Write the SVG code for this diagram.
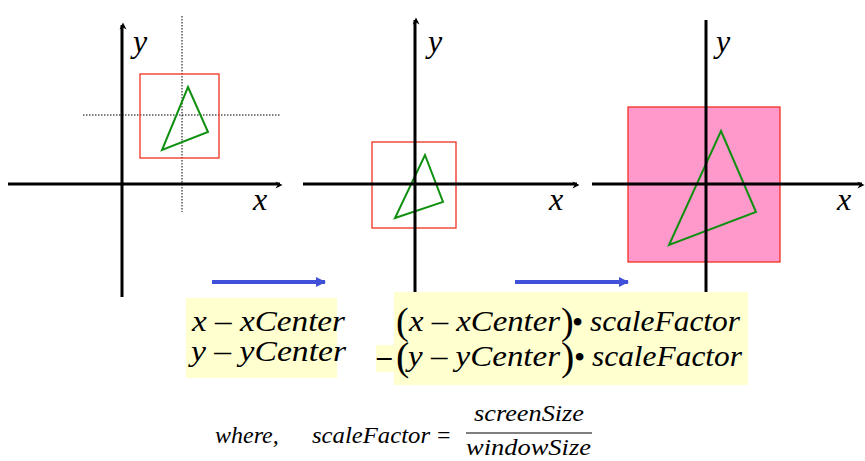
<svg xmlns="http://www.w3.org/2000/svg" width="865" height="461" viewBox="0 0 865 461">
<style>
.ax{stroke:#000;stroke-width:3;fill:none}
.dot{stroke:#000;stroke-width:1;stroke-dasharray:1.5,1.5;fill:none}
.win{stroke:#f03020;stroke-width:1.3;fill:none}
.tri{stroke:#109010;stroke-width:2;fill:none}
.blue{stroke:#4050d8;stroke-width:4;fill:none}
.t{font-family:"Liberation Serif","Times New Roman","DejaVu Serif",serif;font-style:italic;fill:#000}
.n{font-family:"Liberation Serif","Times New Roman","DejaVu Serif",serif;fill:#000}
.yb{fill:#ffffd0}
</style>
<defs>
<marker id="ah" viewBox="0 0 10 10" refX="9" refY="5" markerWidth="5" markerHeight="5" orient="auto" markerUnits="userSpaceOnUse" style="overflow:visible"><path d="M0,0 L10,5 L0,10 L3,5 Z" fill="#000" transform="scale(1.4)"/></marker>
<marker id="bh" viewBox="0 0 10 10" refX="9" refY="5" markerWidth="14" markerHeight="10" orient="auto" markerUnits="userSpaceOnUse"><path d="M0,0 L10,5 L0,10 Z" fill="#4050d8"/></marker>
</defs>
<g id="panel1">
<line class="dot" x1="182" y1="16" x2="182" y2="212"/>
<line class="dot" x1="83" y1="115" x2="280" y2="115"/>
<rect class="win" x="140" y="74" width="79" height="84"/>
<polygon class="tri" points="188,87 208,132 162,150"/>
</g>
<g id="panel2">
<rect class="win" x="372" y="142" width="84" height="86"/>
<polygon class="tri" points="425,155 443,202 395,218"/>
</g>
<g id="panel3">
<rect x="628" y="107" width="152" height="155" fill="#ff99cc" stroke="#f03020" stroke-width="1.3"/>
<polygon class="tri" points="721,131 756,212 669,245"/>
</g>
<g id="connectors">
<line class="ax" x1="122" y1="297" x2="122" y2="25" marker-end="url(#ah)"/>
<line class="ax" x1="8" y1="184" x2="280" y2="184" marker-end="url(#ah)"/>
<line class="ax" x1="415" y1="297" x2="415" y2="20" marker-end="url(#ah)"/>
<line class="ax" x1="303" y1="184" x2="577" y2="184" marker-end="url(#ah)"/>
<line class="ax" x1="592" y1="184" x2="862" y2="184" marker-end="url(#ah)"/>
<line class="ax" x1="706" y1="20" x2="706" y2="297" marker-end="url(#ah)"/>
<line class="blue" x1="212" y1="282" x2="325" y2="282" marker-end="url(#bh)"/>
<line class="blue" x1="515" y1="282" x2="628" y2="282" marker-end="url(#bh)"/>
</g>
<g id="labels">
<text class="t" x="133" y="52" font-size="32">y</text>
<text class="t" x="253" y="210" font-size="32">x</text>
<text class="t" x="428" y="52" font-size="32">y</text>
<text class="t" x="549" y="210" font-size="32">x</text>
<text class="t" x="716" y="52" font-size="32">y</text>
<text class="t" x="837" y="210" font-size="32">x</text>
</g>
<g id="eq1">
<rect class="yb" x="186" y="298" width="151" height="80"/>
<text class="t" x="192" y="331" font-size="29" textLength="153" lengthAdjust="spacingAndGlyphs">x – xCenter</text>
<text class="t" x="191" y="361" font-size="29" textLength="155" lengthAdjust="spacingAndGlyphs">y – yCenter</text>
</g>
<g id="eq2">
<rect class="yb" x="394" y="292" width="354" height="93"/>
<rect class="yb" x="376" y="345" width="20" height="27"/>
<text class="n" x="396" y="334" font-size="38">(</text>
<text class="t" x="409" y="331" font-size="29" textLength="151" lengthAdjust="spacingAndGlyphs">x – xCenter</text>
<text class="n" x="561" y="334" font-size="38">)</text>
<text class="n" x="572" y="333" font-size="32">•</text>
<text class="t" x="590" y="331" font-size="29" textLength="150" lengthAdjust="spacingAndGlyphs">scaleFactor</text>
<text class="n" x="377" y="366" font-size="29" font-weight="bold">–</text>
<text class="n" x="396" y="370" font-size="40">(</text>
<text class="t" x="408" y="366" font-size="29" textLength="152" lengthAdjust="spacingAndGlyphs">y – yCenter</text>
<text class="n" x="561" y="370" font-size="40">)</text>
<text class="n" x="574" y="368" font-size="32">•</text>
<text class="t" x="592" y="366" font-size="29" textLength="150" lengthAdjust="spacingAndGlyphs">scaleFactor</text>
</g>
<g id="where">
<text class="t" x="215" y="443" font-size="24">where,</text>
<text class="t" x="312" y="443" font-size="24" textLength="118" lengthAdjust="spacingAndGlyphs">scaleFactor</text>
<text class="n" x="437" y="443" font-size="24">=</text>
<line x1="466" y1="433" x2="592" y2="433" stroke="#555" stroke-width="1.3"/>
<text class="t" x="474" y="421" font-size="24" textLength="110" lengthAdjust="spacingAndGlyphs">screenSize</text>
<text class="t" x="466" y="455" font-size="24" textLength="125" lengthAdjust="spacingAndGlyphs">windowSize</text>
</g>
</svg>
